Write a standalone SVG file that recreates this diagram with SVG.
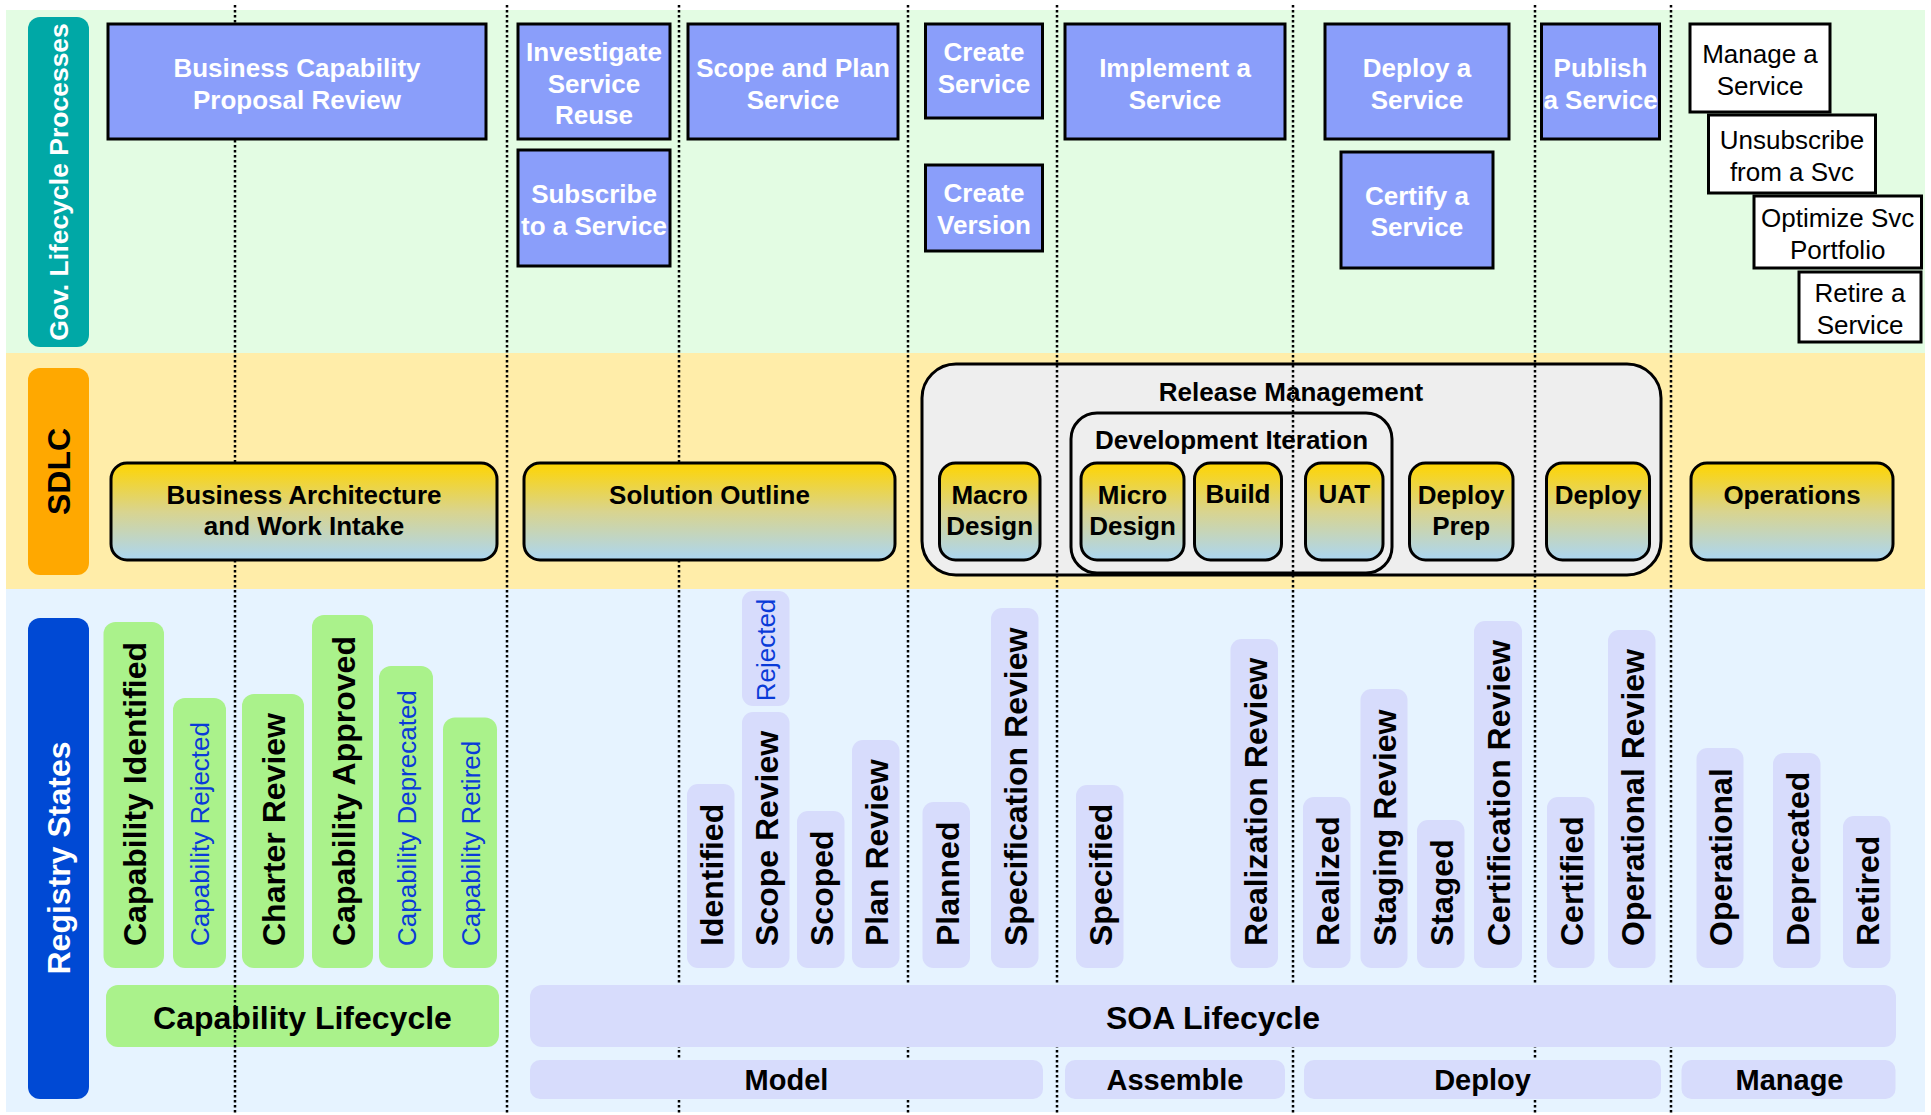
<svg xmlns="http://www.w3.org/2000/svg" width="1931" height="1115" viewBox="0 0 1931 1115">
<style>
text{font-family:"Liberation Sans",Arial,sans-serif}
.bx{fill:#8A9EFA;stroke:#000;stroke-width:3}
.bt{fill:#fff;font-weight:bold;font-size:26px;text-anchor:middle}
.wx{fill:#fff;stroke:#000;stroke-width:3}
.wt{fill:#000;font-size:26px;text-anchor:middle}
.sd{fill:url(#gy);stroke:#000;stroke-width:3}
.st{fill:#000;font-weight:bold;font-size:26px;text-anchor:middle}
.gs{fill:#AAF28B}
.ls{fill:#D7DCFC}
.rb{fill:#000;font-weight:bold;font-size:32px}
.rr{fill:#0A3BD8;font-size:26px}
.lab{fill:#fff;font-weight:bold;text-anchor:middle}
.sep{stroke:#000;stroke-width:2.5;stroke-dasharray:2.5 2.5;fill:none}
.bar{font-weight:bold;fill:#000;text-anchor:middle}
</style>
<defs>
<linearGradient id="gy" x1="0" y1="0" x2="0" y2="1">
<stop offset="0" stop-color="#FFD500"/>
<stop offset="0.5" stop-color="#D9D48E"/>
<stop offset="1" stop-color="#ABD6F2"/>
</linearGradient>
</defs>
<rect width="1931" height="1115" fill="#fff"/>
<g id="bands">
<rect x="6" y="10" width="1919" height="343" fill="#E3FCE3"/>
<rect x="6" y="353" width="1919" height="236" fill="#FFEDA9"/>
<rect x="6" y="589" width="1919" height="523" fill="#E6F3FF"/>
</g>
<g id="row-labels">
<g id="lbl-gov"><rect x="28" y="17" width="61" height="330" rx="12" fill="#00A8A6"/>
<text class="lab" font-size="26.5" transform="translate(68,182) rotate(-90)">Gov. Lifecycle Processes</text></g>
<g id="lbl-sdlc"><rect x="28" y="368" width="61" height="207" rx="12" fill="#FFA800"/>
<text class="lab" font-size="32" style="fill:#000" transform="translate(70,471.5) rotate(-90)">SDLC</text></g>
<g id="lbl-reg"><rect x="28" y="618" width="61" height="481" rx="12" fill="#0049D4"/>
<text class="lab" font-size="32" transform="translate(70,858) rotate(-90)">Registry States</text></g>
</g>
<g id="containers">
<g id="release-mgmt"><rect x="922" y="364" width="739" height="211" rx="34" fill="#EEEEEE" stroke="#000" stroke-width="3"/>
<text class="st" x="1291" y="401">Release Management</text></g>
<g id="dev-iteration"><rect x="1071" y="413" width="321" height="160" rx="26" fill="#EEEEEE" stroke="#000" stroke-width="3"/>
<text class="st" x="1231.5" y="449">Development Iteration</text></g>
<g id="capability-lifecycle"><rect x="106" y="985" width="393" height="62" rx="12" class="gs"/>
<text class="bar" font-size="32" x="302.5" y="1029">Capability Lifecycle</text></g>
</g>
<g id="separators">
<line class="sep" x1="235" y1="5" x2="235" y2="1115"/>
<line class="sep" x1="507" y1="5" x2="507" y2="1115"/>
<line class="sep" x1="679" y1="5" x2="679" y2="1115"/>
<line class="sep" x1="908" y1="5" x2="908" y2="1115"/>
<line class="sep" x1="1057" y1="5" x2="1057" y2="1115"/>
<line class="sep" x1="1293" y1="5" x2="1293" y2="1115"/>
<line class="sep" x1="1535" y1="5" x2="1535" y2="1115"/>
<line class="sep" x1="1671" y1="5" x2="1671" y2="1115"/>
</g>
<g id="gov-processes">
<g id="p-bcpr"><rect class="bx" x="108" y="24" width="378" height="115"/><text class="bt" x="297" y="77">Business Capability</text><text class="bt" x="297" y="108.5">Proposal Review</text></g>
<g id="p-isr"><rect class="bx" x="518" y="24" width="152" height="115"/><text class="bt" x="594" y="61">Investigate</text><text class="bt" x="594" y="92.5">Service</text><text class="bt" x="594" y="124">Reuse</text></g>
<g id="p-sub"><rect class="bx" x="518" y="150" width="152" height="116"/><text class="bt" x="594" y="203">Subscribe</text><text class="bt" x="594" y="234.5">to a Service</text></g>
<g id="p-scope"><rect class="bx" x="688" y="24" width="210" height="115"/><text class="bt" x="793" y="77">Scope and Plan</text><text class="bt" x="793" y="108.5">Service</text></g>
<g id="p-create"><rect class="bx" x="925.5" y="24" width="117" height="94"/><text class="bt" x="984" y="61">Create</text><text class="bt" x="984" y="92.5">Service</text></g>
<g id="p-version"><rect class="bx" x="925.5" y="165" width="117" height="86"/><text class="bt" x="984" y="202">Create</text><text class="bt" x="984" y="233.5">Version</text></g>
<g id="p-implement"><rect class="bx" x="1065" y="24" width="220" height="115"/><text class="bt" x="1175" y="77">Implement a</text><text class="bt" x="1175" y="108.5">Service</text></g>
<g id="p-deploy"><rect class="bx" x="1325" y="24" width="184" height="115"/><text class="bt" x="1417" y="77">Deploy a</text><text class="bt" x="1417" y="108.5">Service</text></g>
<g id="p-certify"><rect class="bx" x="1341" y="152" width="152" height="116"/><text class="bt" x="1417" y="204.5">Certify a</text><text class="bt" x="1417" y="236">Service</text></g>
<g id="p-publish"><rect class="bx" x="1541.5" y="24" width="118" height="115"/><text class="bt" x="1600.5" y="77">Publish</text><text class="bt" x="1600.5" y="108.5">a Service</text></g>
<g id="p-manage"><rect class="wx" x="1690" y="24" width="140" height="88"/><text class="wt" x="1760" y="63">Manage a</text><text class="wt" x="1760" y="94.5">Service</text></g>
<g id="p-unsub"><rect class="wx" x="1708.5" y="115" width="167" height="78"/><text class="wt" x="1792" y="149">Unsubscribe</text><text class="wt" x="1792" y="180.5">from a Svc</text></g>
<g id="p-optimize"><rect class="wx" x="1754" y="196" width="167.5" height="72"/><text class="wt" x="1837.7" y="227">Optimize Svc</text><text class="wt" x="1837.7" y="258.5">Portfolio</text></g>
<g id="p-retire"><rect class="wx" x="1799" y="272" width="122" height="70"/><text class="wt" x="1860" y="302">Retire a</text><text class="wt" x="1860" y="333.5">Service</text></g>
</g>
<g id="sdlc">
<g id="s-ba"><rect class="sd" x="111" y="463" width="386" height="97" rx="16"/><text class="st" x="304" y="504">Business Architecture</text><text class="st" x="304" y="535">and Work Intake</text></g>
<g id="s-so"><rect class="sd" x="524" y="463" width="371" height="97" rx="16"/><text class="st" x="709.5" y="504">Solution Outline</text></g>
<g id="s-macro"><rect class="sd" x="939.5" y="463" width="100.5" height="97" rx="16"/><text class="st" x="989.7" y="504">Macro</text><text class="st" x="989.7" y="535">Design</text></g>
<g id="s-micro"><rect class="sd" x="1081" y="463" width="103" height="97" rx="16"/><text class="st" x="1132.5" y="504">Micro</text><text class="st" x="1132.5" y="535">Design</text></g>
<g id="s-build"><rect class="sd" x="1194.5" y="463" width="87" height="97" rx="16"/><text class="st" x="1238" y="503">Build</text></g>
<g id="s-uat"><rect class="sd" x="1305.5" y="463" width="77.5" height="97" rx="16"/><text class="st" x="1344.3" y="503">UAT</text></g>
<g id="s-dprep"><rect class="sd" x="1409.5" y="463" width="103.5" height="97" rx="16"/><text class="st" x="1461.2" y="504">Deploy</text><text class="st" x="1461.2" y="535">Prep</text></g>
<g id="s-deploy"><rect class="sd" x="1546.5" y="463" width="103" height="97" rx="16"/><text class="st" x="1598" y="504">Deploy</text></g>
<g id="s-ops"><rect class="sd" x="1691" y="463" width="202" height="97" rx="16"/><text class="st" x="1792" y="504">Operations</text></g>
</g>
<g id="capability-states">
<g id="c-identified"><rect class="gs" x="103.5" y="622" width="60.5" height="346" rx="12"/><text class="rb" transform="translate(146,946) rotate(-90)">Capability Identified</text></g>
<g id="c-rejected"><rect class="gs" x="173" y="698" width="53" height="270" rx="12"/><text class="rr" transform="translate(209,946) rotate(-90)">Capability Rejected</text></g>
<g id="c-charter"><rect class="gs" x="242" y="694" width="62" height="274" rx="12"/><text class="rb" transform="translate(285,946) rotate(-90)">Charter Review</text></g>
<g id="c-approved"><rect class="gs" x="312" y="615" width="61" height="353" rx="12"/><text class="rb" transform="translate(354.5,946) rotate(-90)">Capability Approved</text></g>
<g id="c-deprecated"><rect class="gs" x="379" y="666" width="54" height="302" rx="12"/><text class="rr" transform="translate(415.5,946) rotate(-90)">Capability Deprecated</text></g>
<g id="c-retired"><rect class="gs" x="443" y="717.5" width="54" height="250.5" rx="12"/><text class="rr" transform="translate(479.5,946) rotate(-90)">Capability Retired</text></g>
</g>
<g id="soa-states">
<g id="r-rejected"><rect class="ls" x="742" y="591" width="47.5" height="115" rx="11"/><text class="rr" text-anchor="middle" transform="translate(775,650) rotate(-90)">Rejected</text></g>
<g id="r-identified"><rect class="ls" x="687" y="784" width="47.5" height="184" rx="11"/><text class="rb" transform="translate(723,946) rotate(-90)">Identified</text></g>
<g id="r-scopereview"><rect class="ls" x="742" y="712" width="47.5" height="256" rx="11"/><text class="rb" transform="translate(778,946) rotate(-90)">Scope Review</text></g>
<g id="r-scoped"><rect class="ls" x="797" y="811" width="47.5" height="157" rx="11"/><text class="rb" transform="translate(833,946) rotate(-90)">Scoped</text></g>
<g id="r-planreview"><rect class="ls" x="852" y="740" width="47.5" height="228" rx="11"/><text class="rb" transform="translate(888,946) rotate(-90)">Plan Review</text></g>
<g id="r-planned"><rect class="ls" x="922.5" y="802" width="47.5" height="166" rx="11"/><text class="rb" transform="translate(958.5,946) rotate(-90)">Planned</text></g>
<g id="r-specreview"><rect class="ls" x="991" y="608" width="47.5" height="360" rx="11"/><text class="rb" transform="translate(1027,946) rotate(-90)">Specification Review</text></g>
<g id="r-specified"><rect class="ls" x="1076" y="785" width="47.5" height="183" rx="11"/><text class="rb" transform="translate(1112,946) rotate(-90)">Specified</text></g>
<g id="r-realreview"><rect class="ls" x="1230.5" y="639" width="47.5" height="329" rx="11"/><text class="rb" transform="translate(1266.5,946) rotate(-90)">Realization Review</text></g>
<g id="r-realized"><rect class="ls" x="1303" y="797" width="47.5" height="171" rx="11"/><text class="rb" transform="translate(1339,946) rotate(-90)">Realized</text></g>
<g id="r-stagreview"><rect class="ls" x="1360.5" y="689" width="47" height="279" rx="11"/><text class="rb" transform="translate(1396,946) rotate(-90)">Staging Review</text></g>
<g id="r-staged"><rect class="ls" x="1417" y="820" width="47.5" height="148" rx="11"/><text class="rb" transform="translate(1453,946) rotate(-90)">Staged</text></g>
<g id="r-certreview"><rect class="ls" x="1474" y="621" width="48" height="347" rx="11"/><text class="rb" transform="translate(1510,946) rotate(-90)">Certification Review</text></g>
<g id="r-certified"><rect class="ls" x="1547" y="797" width="47.5" height="171" rx="11"/><text class="rb" transform="translate(1583,946) rotate(-90)">Certified</text></g>
<g id="r-opreview"><rect class="ls" x="1608" y="630" width="47.5" height="338" rx="11"/><text class="rb" transform="translate(1644,946) rotate(-90)">Operational Review</text></g>
<g id="r-operational"><rect class="ls" x="1696.5" y="748" width="47" height="220" rx="11"/><text class="rb" transform="translate(1732,946) rotate(-90)">Operational</text></g>
<g id="r-deprecated"><rect class="ls" x="1773" y="753" width="47.5" height="215" rx="11"/><text class="rb" transform="translate(1809,946) rotate(-90)">Deprecated</text></g>
<g id="r-retired"><rect class="ls" x="1843" y="816" width="47.5" height="152" rx="11"/><text class="rb" transform="translate(1879,946) rotate(-90)">Retired</text></g>
</g>
<g id="soa-bars">
<g id="b-soa"><rect class="ls" x="530" y="985" width="1366" height="62" rx="12"/><text class="bar" font-size="32" x="1213" y="1029">SOA Lifecycle</text></g>
<g id="b-model"><rect class="ls" x="530" y="1060" width="513" height="39" rx="10"/><text class="bar" font-size="29" x="786.5" y="1090">Model</text></g>
<g id="b-assemble"><rect class="ls" x="1065" y="1060" width="220" height="39" rx="10"/><text class="bar" font-size="29" x="1175" y="1090">Assemble</text></g>
<g id="b-deploy"><rect class="ls" x="1304" y="1060" width="357" height="39" rx="10"/><text class="bar" font-size="29" x="1482.5" y="1090">Deploy</text></g>
<g id="b-manage"><rect class="ls" x="1681.5" y="1060" width="214" height="39" rx="10"/><text class="bar" font-size="29" x="1789.5" y="1090">Manage</text></g>
</g>
</svg>
